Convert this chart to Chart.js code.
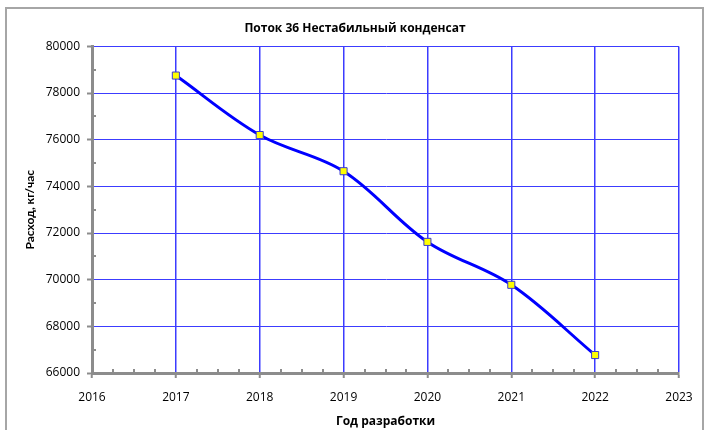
<!DOCTYPE html>
<html>
<head>
<meta charset="utf-8">
<script src="https://cdn.jsdelivr.net/npm/chart.js@4.4.1/dist/chart.umd.min.js"></script>
<style>
    html, body { margin: 0; padding: 0; background: #fff; }
    #wrap { position: relative; width: 706px; height: 430px; overflow: hidden; }
    #frame { position: absolute; left: 5px; top: 7px; width: 699px; height: 440px; border: 2px solid #a6a6a6; box-sizing: border-box; }
    canvas { position: absolute; left: 0; top: 0; }
</style>
</head>
<body>
<div id="wrap">
    <div id="frame"></div>
    <canvas id="flowChart" width="706" height="430"></canvas>
</div>
<script>
const years = [2017, 2018, 2019, 2020, 2021, 2022];
const flowValues = [78750, 76200, 74650, 71620, 69780, 66770];
const chartTitle = 'Поток 36 Нестабильный конденсат';
const xTitle = 'Год разработки';
const yTitle = 'Расход, кг/час';

const axisGray = '#8c8c8c';
const gridBlue = '#3c3cff';
const wideFont = '"Open Sans", sans-serif';
const narrowFont = 'Lato, sans-serif';

// small minor tick marks like the spreadsheet chart
const minorTicks = {
    id: 'minorTicks',
    afterDatasetsDraw(chart) {
        const ctx = chart.ctx;
        const x = chart.scales.x;
        const y = chart.scales.y;
        ctx.save();
        ctx.strokeStyle = axisGray;
        ctx.lineWidth = 2;
        ctx.beginPath();
        for (let v = 2016; v < 2023; v++) {
            [0.25, 0.5, 0.75].forEach(f => {
                const px = Math.round(x.getPixelForValue(v + f));
                ctx.moveTo(px, y.bottom);
                ctx.lineTo(px, y.bottom - 4);
            });
        }
        for (let v = 67000; v < 80000; v += 2000) {
            const py = Math.round(y.getPixelForValue(v));
            ctx.moveTo(x.left, py);
            ctx.lineTo(x.left + 4, py);
        }
        ctx.stroke();
        ctx.restore();
    }
};

const ctx = document.getElementById('flowChart').getContext('2d');
new Chart(ctx, {
    type: 'line',
    data: {
        datasets: [{
            data: years.map((yr, i) => ({ x: yr, y: flowValues[i] })),
            borderColor: '#0000ff',
            borderWidth: 3,
            tension: 0.35,
            pointStyle: 'rect',
            pointRadius: 5,
            pointBackgroundColor: '#ffff00',
            pointBorderColor: '#3a3ad0',
            pointBorderWidth: 1
        }]
    },
    options: {
        responsive: false,
        animation: false,
        // left padding shifts the title centre to match the original
        layout: { padding: { left: 31, right: 27, top: 0, bottom: 0 } },
        plugins: {
            legend: { display: false },
            tooltip: { enabled: false },
            title: {
                display: true,
                text: chartTitle,
                color: '#000',
                font: { family: wideFont, size: 12, weight: 'bold' },
                padding: { top: 21, bottom: 11 }
            }
        },
        scales: {
            x: {
                type: 'linear',
                min: 2016,
                max: 2023,
                afterFit: s => { s.height = 57; },
                ticks: {
                    stepSize: 1,
                    color: '#000',
                    padding: 12,
                    maxRotation: 0,
                    font: { family: wideFont, size: 12 },
                    callback: v => String(v)
                },
                grid: {
                    color: gridBlue,
                    lineWidth: 1.5,
                    tickColor: axisGray,
                    tickWidth: 2,
                    tickLength: 5
                },
                border: { color: axisGray, width: 3 },
                title: {
                    display: true,
                    text: xTitle,
                    color: '#000',
                    font: { family: wideFont, size: 12, weight: 'bold' },
                    padding: { top: 0, bottom: 1 }
                }
            },
            y: {
                min: 66000,
                max: 80000,
                afterFit: s => { s.width = 61; },
                ticks: {
                    stepSize: 2000,
                    color: '#000',
                    padding: 7,
                    font: { family: wideFont, size: 12 },
                    callback: v => String(v)
                },
                grid: {
                    color: gridBlue,
                    lineWidth: 1,
                    tickColor: axisGray,
                    tickWidth: 2,
                    tickLength: 5
                },
                border: { color: axisGray, width: 3 },
                title: {
                    display: true,
                    text: yTitle,
                    color: '#000',
                    font: { family: narrowFont, size: 12, weight: 'bold' },
                    padding: { top: -8, bottom: 0 }
                }
            }
        }
    },
    plugins: [minorTicks]
});
</script>
</body>
</html>
